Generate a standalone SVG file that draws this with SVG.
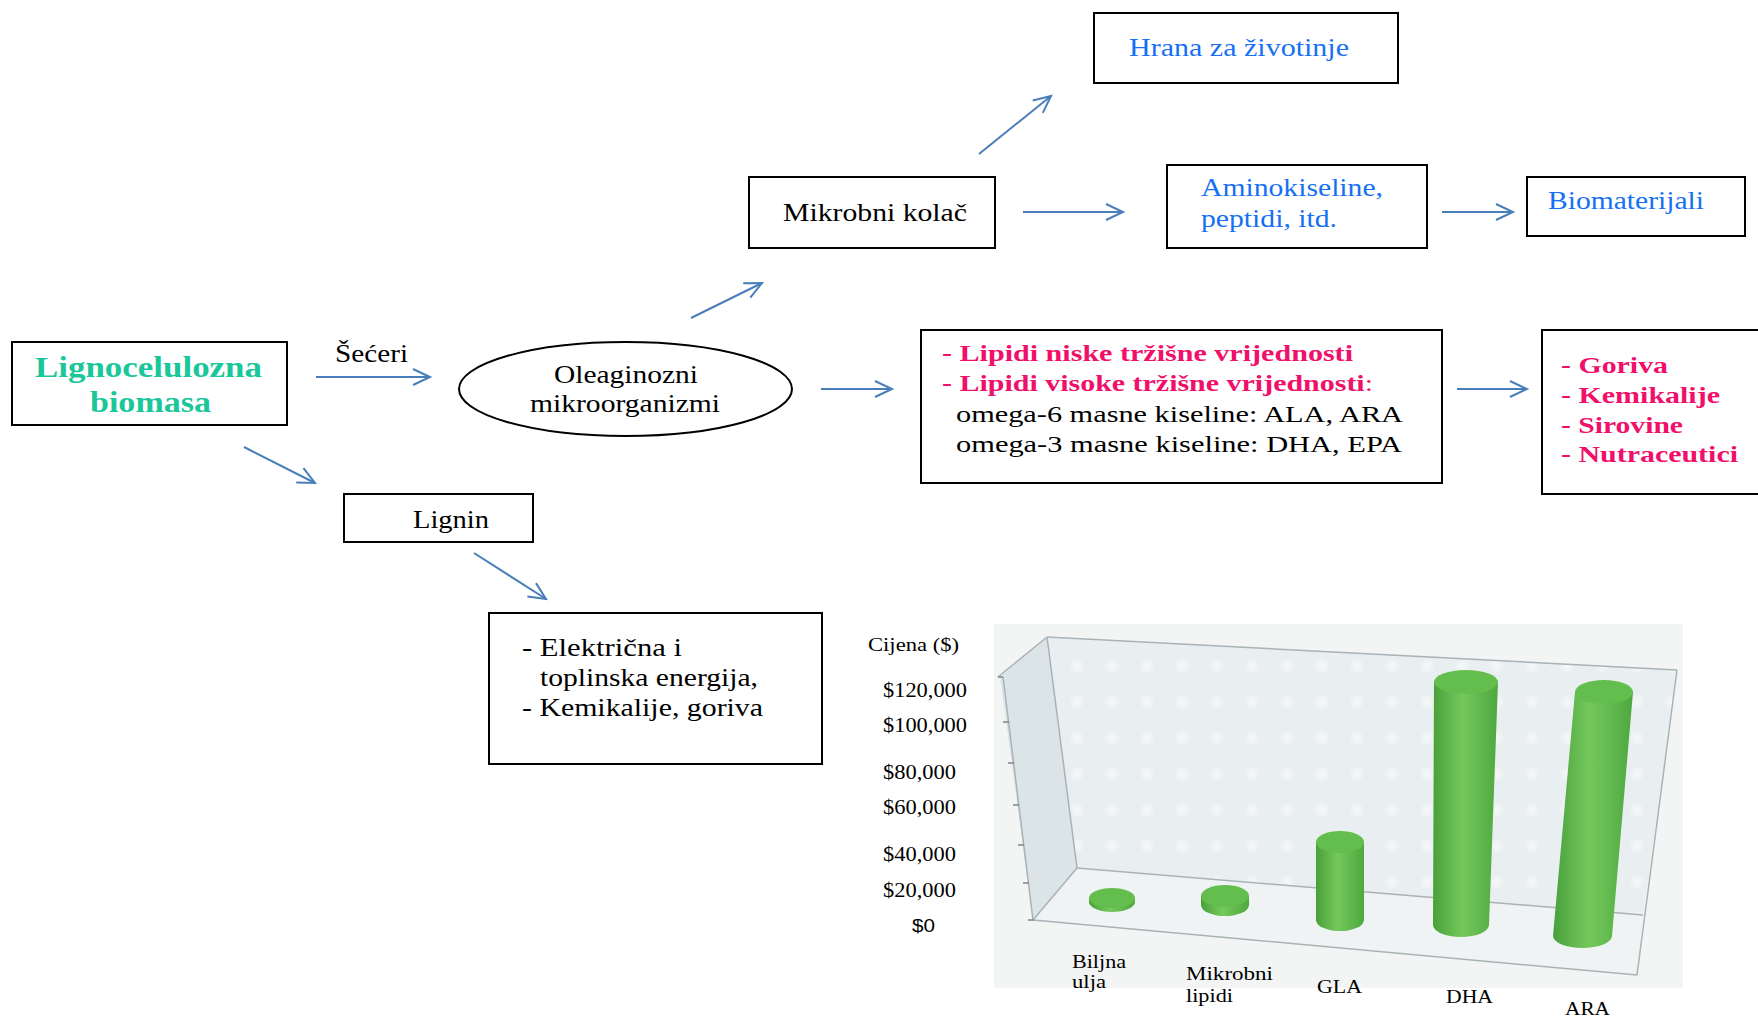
<svg xmlns="http://www.w3.org/2000/svg" width="1758" height="1018" viewBox="0 0 1758 1018">
<style>
.box{fill:#fff;stroke:#000;stroke-width:2}
.t{font-family:"Liberation Serif","Times New Roman",serif;fill:#000}
.b{font-weight:bold}
.blue{fill:#1670f5}
.pink{fill:#f0106a}
.green{fill:#1ac79a}
.con{stroke:#4a7ebb;stroke-width:2;fill:none}
.ax{stroke:#a9b2b6;stroke-width:1.5;fill:none}
.tick{stroke:#7d868a;stroke-width:1.5}
.cyltop{fill:#63be4e}
</style>
<defs>
<marker id="ah" markerUnits="userSpaceOnUse" markerWidth="24" markerHeight="24" viewBox="-20 -12 24 24" refX="0" refY="0" orient="auto">
<path d="M-17,-8 L0,0 L-17,8" fill="none" stroke="#4a7ebb" stroke-width="2"/>
</marker>
<linearGradient id="cyl" x1="0" y1="0" x2="1" y2="0">
<stop offset="0" stop-color="#49a03a"/>
<stop offset="0.45" stop-color="#74c95c"/>
<stop offset="1" stop-color="#4ea83f"/>
</linearGradient>
<radialGradient id="dotg">
<stop offset="0" stop-color="#ffffff" stop-opacity="0.6"/>
<stop offset="1" stop-color="#ffffff" stop-opacity="0"/>
</radialGradient>
<pattern id="dots" patternUnits="userSpaceOnUse" x="1060" y="648" width="35" height="36">
<circle cx="17" cy="18" r="8" fill="url(#dotg)"/>
</pattern>
</defs>

<g id="connectors">
<line class="con" x1="316" y1="377" x2="430" y2="377" marker-end="url(#ah)"/>
<line class="con" x1="244" y1="447" x2="315" y2="483" marker-end="url(#ah)"/>
<line class="con" x1="691" y1="318" x2="762" y2="283" marker-end="url(#ah)"/>
<line class="con" x1="979" y1="154" x2="1051" y2="96" marker-end="url(#ah)"/>
<line class="con" x1="1023" y1="212" x2="1123" y2="212" marker-end="url(#ah)"/>
<line class="con" x1="1442" y1="212" x2="1513" y2="212" marker-end="url(#ah)"/>
<line class="con" x1="821" y1="389" x2="892" y2="389" marker-end="url(#ah)"/>
<line class="con" x1="1457" y1="389" x2="1527" y2="389" marker-end="url(#ah)"/>
<line class="con" x1="474" y1="553" x2="546" y2="599" marker-end="url(#ah)"/>
</g>

<g id="lignoceluloza">
<rect class="box" x="12" y="342" width="275" height="83"/>
<text class="t b green" x="35" y="377" font-size="29" textLength="227" lengthAdjust="spacingAndGlyphs">Lignocelulozna</text>
<text class="t b green" x="90" y="412" font-size="29" textLength="121" lengthAdjust="spacingAndGlyphs">biomasa</text>
</g>

<g id="seceri-label">
<text class="t" x="335" y="362" font-size="25" textLength="73" lengthAdjust="spacingAndGlyphs">Šećeri</text>
</g>

<g id="oleaginozni">
<ellipse cx="625.5" cy="389" rx="166.5" ry="47" fill="#fff" stroke="#000" stroke-width="2"/>
<text class="t" x="554" y="383" font-size="26" textLength="144" lengthAdjust="spacingAndGlyphs">Oleaginozni</text>
<text class="t" x="530" y="412" font-size="26" textLength="190" lengthAdjust="spacingAndGlyphs">mikroorganizmi</text>
</g>

<g id="mikrobni-kolac">
<rect class="box" x="749" y="177" width="246" height="71"/>
<text class="t" x="783" y="221" font-size="26" textLength="184" lengthAdjust="spacingAndGlyphs">Mikrobni kolač</text>
</g>

<g id="hrana">
<rect class="box" x="1094" y="13" width="304" height="70"/>
<text class="t blue" x="1129" y="56" font-size="26" textLength="220" lengthAdjust="spacingAndGlyphs">Hrana za životinje</text>
</g>

<g id="aminokiseline">
<rect class="box" x="1167" y="165" width="260" height="83"/>
<text class="t blue" x="1201" y="196" font-size="26" textLength="182" lengthAdjust="spacingAndGlyphs">Aminokiseline,</text>
<text class="t blue" x="1201" y="227" font-size="26" textLength="136" lengthAdjust="spacingAndGlyphs">peptidi, itd.</text>
</g>

<g id="biomaterijali">
<rect class="box" x="1527" y="177" width="218" height="59"/>
<text class="t blue" x="1548" y="209" font-size="26" textLength="156" lengthAdjust="spacingAndGlyphs">Biomaterijali</text>
</g>

<g id="lipidi">
<rect class="box" x="921" y="330" width="521" height="153"/>
<text class="t b pink" x="942" y="361" font-size="24" textLength="411" lengthAdjust="spacingAndGlyphs">- Lipidi niske tržišne vrijednosti</text>
<text class="t b pink" x="942" y="391" font-size="24" textLength="431" lengthAdjust="spacingAndGlyphs">- Lipidi visoke tržišne vrijednosti<tspan font-weight="normal">:</tspan></text>
<text class="t" x="956" y="422" font-size="24" textLength="447" lengthAdjust="spacingAndGlyphs">omega-6 masne kiseline: ALA, ARA</text>
<text class="t" x="956" y="452" font-size="24" textLength="446" lengthAdjust="spacingAndGlyphs">omega-3 masne kiseline: DHA, EPA</text>
</g>

<g id="goriva">
<rect class="box" x="1542" y="330" width="230" height="164"/>
<text class="t b pink" x="1561" y="373" font-size="24" textLength="107" lengthAdjust="spacingAndGlyphs">- Goriva</text>
<text class="t b pink" x="1561" y="403" font-size="24" textLength="159" lengthAdjust="spacingAndGlyphs">- Kemikalije</text>
<text class="t b pink" x="1561" y="433" font-size="24" textLength="122" lengthAdjust="spacingAndGlyphs">- Sirovine</text>
<text class="t b pink" x="1561" y="462" font-size="24" textLength="177" lengthAdjust="spacingAndGlyphs">- Nutraceutici</text>
</g>

<g id="lignin">
<rect class="box" x="344" y="494" width="189" height="48"/>
<text class="t" x="413" y="528" font-size="26" textLength="76" lengthAdjust="spacingAndGlyphs">Lignin</text>
</g>

<g id="elektricna">
<rect class="box" x="489" y="613" width="333" height="151"/>
<text class="t" x="522" y="656" font-size="25" textLength="160" lengthAdjust="spacingAndGlyphs">- Električna i</text>
<text class="t" x="540" y="686" font-size="25" textLength="218" lengthAdjust="spacingAndGlyphs">toplinska energija,</text>
<text class="t" x="522" y="716" font-size="25" textLength="241" lengthAdjust="spacingAndGlyphs">- Kemikalije, goriva</text>
</g>

<g id="chart">
<rect x="994" y="624" width="689" height="364" fill="#f3f5f5"/>
<polygon points="1047,637 1677,670 1643,915 1077,868" fill="#e9eff0"/>
<polygon points="1047,637 1677,670 1643,915 1077,868" fill="url(#dots)"/>
<polygon points="1000,677 1047,637 1077,868 1033,920" fill="#dbe4e7"/>
<polygon points="1033,920 1077,868 1643,915 1637,975" fill="#eff3f3"/>
<line class="ax" x1="1047" y1="637" x2="1677" y2="670"/>
<line class="ax" x1="1677" y1="670" x2="1637" y2="975"/>
<line class="ax" x1="998" y1="677" x2="1047" y2="637"/>
<line class="ax" x1="1003" y1="677" x2="1033" y2="920"/>
<line class="ax" x1="1047" y1="637" x2="1077" y2="868"/>
<line class="ax" x1="1077" y1="868" x2="1643" y2="915"/>
<line class="ax" x1="1033" y1="920" x2="1637" y2="975"/>
<line class="ax" x1="1033" y1="920" x2="1077" y2="868"/>
<line class="tick" x1="998" y1="677" x2="1003" y2="677"/>
<line class="tick" x1="1003" y1="722" x2="1009" y2="722"/>
<line class="tick" x1="1008" y1="763" x2="1014" y2="763"/>
<line class="tick" x1="1013" y1="805" x2="1019" y2="805"/>
<line class="tick" x1="1018" y1="845" x2="1024" y2="845"/>
<line class="tick" x1="1023" y1="883" x2="1029" y2="883"/>
<line class="tick" x1="1028" y1="920" x2="1034" y2="920"/>

<path d="M1089,898 L1089,902 A23,10 0 0 0 1135,902 L1135,898 Z" fill="url(#cyl)"/>
<ellipse cx="1112" cy="898" rx="23" ry="10" class="cyltop"/>
<path d="M1201,896 L1201,905 A24,11 0 0 0 1249,905 L1249,896 Z" fill="url(#cyl)"/>
<ellipse cx="1225" cy="896" rx="24" ry="11" class="cyltop"/>
<path d="M1316,842 L1316,920 A24,11 0 0 0 1364,920 L1364,842 Z" fill="url(#cyl)"/>
<ellipse cx="1340" cy="842" rx="24" ry="11" class="cyltop"/>
<path d="M1434,682 L1433,925 A28,12 0 0 0 1489,925 L1498,682 Z" fill="url(#cyl)"/>
<ellipse cx="1466" cy="682" rx="32" ry="12" class="cyltop"/>
<path d="M1575,692 L1553,936 A29.5,12 0 0 0 1612,936 L1633,692 Z" fill="url(#cyl)"/>
<ellipse cx="1604" cy="692" rx="29" ry="12" class="cyltop"/>

<text class="t" x="868" y="651" font-size="19" textLength="91" lengthAdjust="spacingAndGlyphs">Cijena ($)</text>
<text class="t" x="883" y="697" font-size="20" textLength="84" lengthAdjust="spacingAndGlyphs">$120,000</text>
<text class="t" x="883" y="732" font-size="20" textLength="84" lengthAdjust="spacingAndGlyphs">$100,000</text>
<text class="t" x="883" y="779" font-size="20" textLength="73" lengthAdjust="spacingAndGlyphs">$80,000</text>
<text class="t" x="883" y="814" font-size="20" textLength="73" lengthAdjust="spacingAndGlyphs">$60,000</text>
<text class="t" x="883" y="861" font-size="20" textLength="73" lengthAdjust="spacingAndGlyphs">$40,000</text>
<text class="t" x="883" y="897" font-size="20" textLength="73" lengthAdjust="spacingAndGlyphs">$20,000</text>
<text x="912" y="932" font-family="'Liberation Sans',Arial,sans-serif" font-size="18" fill="#000" textLength="23" lengthAdjust="spacingAndGlyphs">$0</text>
<text class="t" x="1072" y="968" font-size="19" textLength="54" lengthAdjust="spacingAndGlyphs">Biljna</text>
<text class="t" x="1072" y="988" font-size="19" textLength="34" lengthAdjust="spacingAndGlyphs">ulja</text>
<text class="t" x="1186" y="980" font-size="19" textLength="87" lengthAdjust="spacingAndGlyphs">Mikrobni</text>
<text class="t" x="1186" y="1002" font-size="19" textLength="47" lengthAdjust="spacingAndGlyphs">lipidi</text>
<text class="t" x="1317" y="993" font-size="19" textLength="45" lengthAdjust="spacingAndGlyphs">GLA</text>
<text class="t" x="1446" y="1003" font-size="19" textLength="47" lengthAdjust="spacingAndGlyphs">DHA</text>
<text class="t" x="1565" y="1015" font-size="19" textLength="45" lengthAdjust="spacingAndGlyphs">ARA</text>
</g>
</svg>
